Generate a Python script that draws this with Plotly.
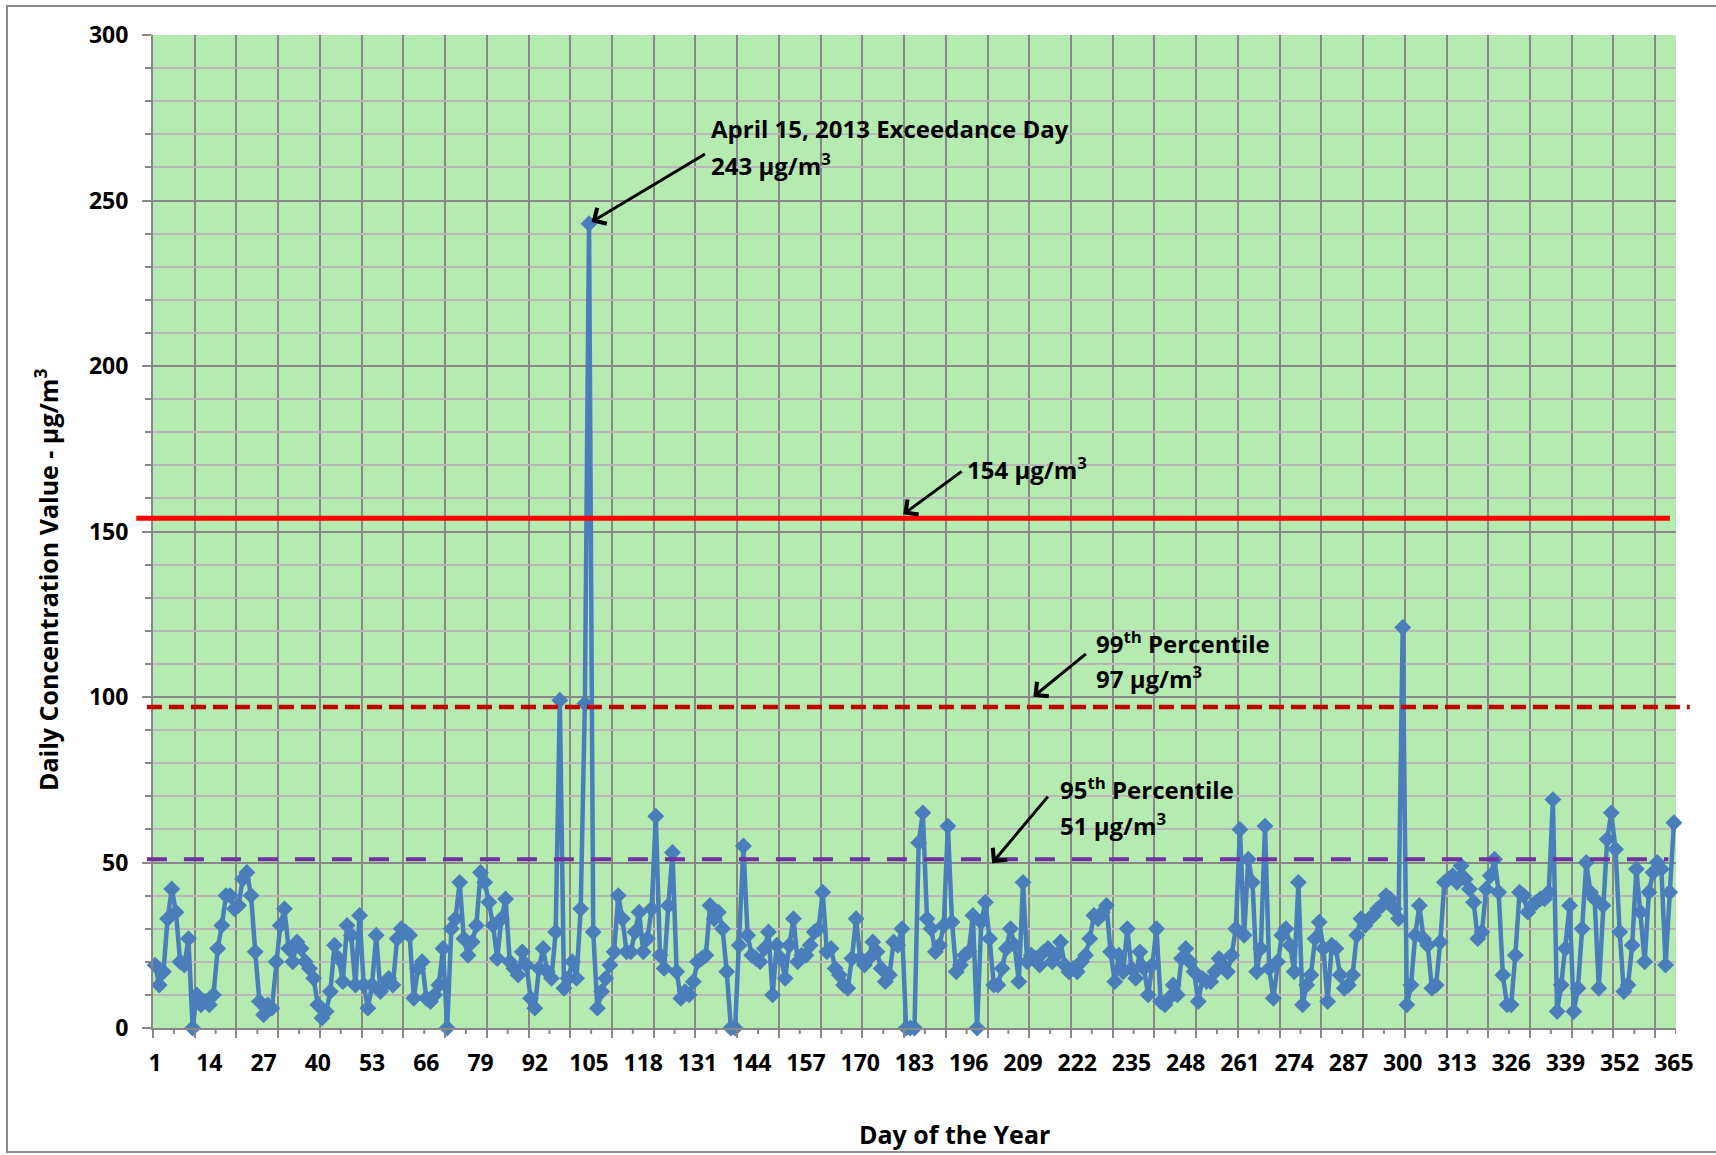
import datetime
import plotly.graph_objects as go

# Daily 24-hour average concentrations (µg/m³), one value per day of 2013
q1_days_001_090 = [
    19, 13, 17, 33, 42, 35, 20, 19, 27, 0,
    10, 7, 8, 7, 10, 24, 31, 40, 40, 36,
    37, 45, 47, 40, 23, 8, 4, 7, 6, 20,
    31, 36, 24, 20, 26, 24, 20, 18, 15, 7,
    3, 5, 11, 25, 21, 14, 31, 28, 13, 34,
    13, 6, 13, 28, 11, 13, 15, 13, 27, 30,
    29, 28, 9, 18, 20, 9, 8, 10, 13, 24,
    0, 30, 33, 44, 27, 22, 26, 31, 47, 44,
    38, 31, 21, 33, 39, 20, 18, 16, 23, 19,
]
q2_days_091_181 = [
    9, 6, 18, 24, 17, 15, 29, 99, 12, 15,
    20, 15, 36, 98, 243, 29, 6, 11, 15, 19,
    23, 40, 33, 23, 23, 29, 35, 23, 27, 36,
    64, 22, 18, 37, 53, 17, 9, 11, 10, 14,
    20, 21, 22, 37, 33, 35, 30, 17, 0, 0,
    25, 55, 28, 22, 21, 20, 24, 29, 10, 25,
    21, 15, 25, 33, 20, 22, 22, 25, 29, 30,
    41, 23, 24, 18, 16, 13, 12, 21, 33, 21,
    19, 21, 26, 23, 18, 14, 16, 26, 25, 30,
    0,
]
q3_days_182_273 = [
    0, 0, 56, 65, 33, 30, 23, 25, 31,
    61, 32, 17, 19, 22, 23, 34, 0, 32, 38,
    27, 13, 13, 18, 24, 30, 25, 14, 44, 20,
    22, 21, 19, 23, 24, 20, 22, 26, 19, 17,
    18, 17, 20, 22, 27, 34, 33, 35, 37, 23,
    14, 22, 17, 30, 18, 15, 23, 18, 10, 19,
    30, 8, 7, 9, 13, 10, 21, 24, 20, 17,
    8, 15, 14, 14, 17, 21, 19, 17, 22, 30,
    60, 28, 51, 44, 17, 24, 61, 18, 9, 20,
    28, 30, 25,
]
q4_days_274_365 = [
    17, 44, 7, 13, 16, 27, 32,
    24, 8, 25, 24, 16, 12, 13, 16, 28, 33,
    31, 33, 34, 36, 37, 40, 39, 36, 33, 121,
    7, 13, 28, 37, 27, 25, 12, 13, 26, 44,
    45, 46, 44, 49, 45, 42, 38, 27, 29, 42,
    46, 51, 41, 16, 7, 7, 22, 41, 40, 35,
    37, 38, 39, 39, 41, 69, 5, 13, 24, 37,
    5, 12, 30, 50, 41, 39, 12, 37, 57, 65,
    54, 29, 11, 13, 25, 48, 35, 20, 41, 47,
    50, 48, 19, 41, 62,
]

daily_values = q1_days_001_090 + q2_days_091_181 + q3_days_182_273 + q4_days_274_365
days = list(range(1, len(daily_values) + 1))
assert len(daily_values) == 365

# Reference levels (µg/m³)
standard_level = 154
p99_level = 97
p95_level = 51

x_tick_days = list(range(1, 366, 13))
y_range = [0, 300]

peak_day = 105
peak_value = daily_values[peak_day - 1]
peak_date = datetime.date(2013, 1, 1) + datetime.timedelta(days=peak_day - 1)

# Figure geometry
W, H = 1716, 1155
M_L, M_R, M_T, M_B = 153, 40, 35, 127
PW, PH = W - M_L - M_R, H - M_T - M_B

FONT = "Open Sans"
BLUE = "#4A7EBB"
GRID_MAJOR = "#888888"
GRID_MINOR = "#b8b8b8"


def yp(v):
    """Data value -> paper y (axis range starts at 0)."""
    return (v - y_range[0]) / (y_range[1] - y_range[0])


fig = go.Figure()
fig.add_trace(go.Scatter(
    x=days, y=daily_values,
    mode="lines+markers",
    line=dict(color=BLUE, width=4.5),
    marker=dict(symbol="diamond", size=13, color=BLUE),
    cliponaxis=False,
    showlegend=False,
))

shapes = []
# short tick marks at the half-decade day boundaries
for b in range(5, 366, 10):
    shapes.append(dict(type="line", xref="x", yref="paper",
                       x0=b + 0.5, x1=b + 0.5, y0=-6 / PH, y1=0,
                       line=dict(color=GRID_MAJOR, width=2)))

# horizontal reference lines
shapes.append(dict(type="line", xref="paper", yref="paper",
                   x0=-0.011, x1=0.996, y0=yp(standard_level), y1=yp(standard_level),
                   line=dict(color="#FF0000", width=5), layer="above"))
shapes.append(dict(type="line", xref="paper", yref="paper",
                   x0=-0.004, x1=1.009, y0=yp(p99_level), y1=yp(p99_level),
                   line=dict(color="#C00000", width=4.5, dash="15px,7px"), layer="above"))
shapes.append(dict(type="line", xref="paper", yref="paper",
                   x0=-0.004, x1=0.995, y0=yp(p95_level), y1=yp(p95_level),
                   line=dict(color="#7030A0", width=4, dash="20px,17px"), layer="above"))

# outer chart border
shapes.append(dict(type="rect", xref="paper", yref="paper",
                   x0=(7 - M_L) / PW, x1=(W + 10 - M_L) / PW,
                   y0=-(1152 - (M_T + PH)) / PH, y1=1 + (M_T - 6) / PH,
                   line=dict(color="#8c8c8c", width=2), fillcolor="rgba(0,0,0,0)"))

txt_font = dict(family=FONT, size=24, color="black", weight="bold")


def label(x, y, text):
    return dict(x=x, y=y, xref="x", yref="y", text=text, showarrow=False,
                xanchor="left", yanchor="middle", font=txt_font)


def arrow(x, y, ax, ay):
    return dict(x=x, y=y, xref="x", yref="y", ax=ax, ay=ay, text="",
                showarrow=True, arrowhead=4, arrowsize=1.2, arrowwidth=3,
                arrowcolor="black", standoff=0, startstandoff=0)


annotations = [
    label(133.8, 271.9, f"{peak_date:%B} {peak_date.day}, {peak_date.year} Exceedance Day"),
    label(133.8, 261.0, f"{peak_value} µg/m<sup>3</sup>"),
    arrow(peak_day + 0.6, peak_value + 0.5, 115, -69),

    label(195.2, 169.1, f"{standard_level} µg/m<sup>3</sup>"),
    arrow(180.3, standard_level + 1.2, 60, -44),

    label(226.1, 116.6, "99<sup>th</sup> Percentile"),
    label(226.1, 105.8, f"{p99_level} µg/m<sup>3</sup>"),
    arrow(211.5, p99_level + 3.1, 54, -44),

    label(217.4, 72.4, "95<sup>th</sup> Percentile"),
    label(217.4, 61.6, f"{p95_level} µg/m<sup>3</sup>"),
    arrow(201.6, p95_level - 1.2, 57, -68),

    # axis titles
    dict(x=(46 - M_L) / PW, y=(M_T + PH - 580) / PH, xref="paper", yref="paper",
         text="Daily Concentration Value - µg/m<sup>3</sup>", textangle=-90,
         showarrow=False, xanchor="center", yanchor="middle",
         font=dict(family=FONT, size=25, color="black", weight="bold")),
    dict(x=(955 - M_L) / PW, y=-(1134 - (M_T + PH)) / PH, xref="paper", yref="paper",
         text="Day of the Year", showarrow=False, xanchor="center", yanchor="middle",
         font=dict(family=FONT, size=25, color="black", weight="bold")),
]

fig.update_layout(
    width=W, height=H,
    margin=dict(l=M_L, r=M_R, t=M_T, b=M_B, autoexpand=False),
    paper_bgcolor="white",
    plot_bgcolor="rgb(181,234,177)",
    shapes=shapes,
    annotations=annotations,
    hovermode=False,
    xaxis=dict(
        range=[0.5, 365.5],
        tickmode="array", tickvals=x_tick_days, ticktext=[str(d) for d in x_tick_days],
        ticks="", showgrid=False, zeroline=False,
        showline=True, linecolor=GRID_MAJOR, linewidth=2,
        tickfont=dict(family=FONT, size=23, color="black", weight="bold"),
        ticklabelstandoff=13,
        minor=dict(tickmode="linear", tick0=0.5, dtick=10, ticks="outside", ticklen=8,
                   tickwidth=2, tickcolor=GRID_MAJOR, showgrid=True,
                   gridcolor=GRID_MAJOR, gridwidth=2),
    ),
    yaxis=dict(
        range=y_range,
        tickmode="linear", tick0=0, dtick=50,
        ticks="outside", ticklen=9, tickwidth=2, tickcolor=GRID_MAJOR,
        showgrid=True, gridcolor=GRID_MAJOR, gridwidth=2, zeroline=False,
        showline=True, linecolor=GRID_MAJOR, linewidth=2,
        tickfont=dict(family=FONT, size=23, color="black", weight="bold"),
        ticklabelstandoff=9,
        minor=dict(tickmode="linear", tick0=0, dtick=10, ticks="outside", ticklen=6,
                   tickwidth=2, tickcolor=GRID_MAJOR, showgrid=True,
                   gridcolor=GRID_MINOR, gridwidth=2),
    ),
)

fig.write_html("out.html")
